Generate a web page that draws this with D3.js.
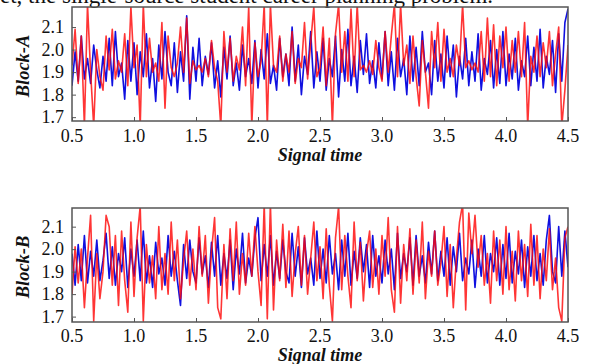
<!DOCTYPE html>
<html>
<head>
<meta charset="utf-8">
<script src="https://cdn.jsdelivr.net/npm/d3@7"></script>
<style>
  html, body { margin: 0; padding: 0; background: #fff; }
  svg { display: block; }
  svg text { font-family: "Liberation Serif", "Times New Roman", Times, serif; }
</style>
</head>
<body>
<svg id="chart" width="590" height="364"></svg>
<script>
// Sampling: 161 samples from 0.5 to 4.5 in steps of 0.025
const timeStart = 0.5;
const timeStep = 0.025;

const xTicks = [0.5, 1.0, 1.5, 2.0, 2.5, 3.0, 3.5, 4.0, 4.5];
const yTicks = [1.7, 1.8, 1.9, 2.0, 2.1];

// Block-A signals
const blockABlue = [
  1.84,1.99,1.86,2.06,1.87,1.96,1.85,2.02,1.91,1.83,
  1.97,1.86,2.05,1.84,2.08,1.88,1.94,1.78,2.04,1.86,
  2.03,1.80,1.99,1.88,2.07,1.83,1.96,1.77,2.02,1.87,
  2.08,1.90,1.84,2.03,1.81,1.99,1.86,2.15,1.78,2.01,
  1.86,2.05,1.84,1.97,1.89,2.03,1.83,1.95,1.79,2.01,
  1.87,2.06,1.84,1.94,1.82,2.02,1.88,1.96,1.85,2.04,
  1.83,2.00,1.87,2.07,1.85,1.93,1.82,2.05,1.88,1.98,
  1.84,2.10,1.86,2.02,1.80,1.97,1.89,2.08,1.83,1.99,
  1.86,2.05,1.82,1.96,1.88,2.06,1.79,2.00,1.86,2.09,
  1.84,1.97,1.81,2.04,1.89,2.07,1.85,1.95,1.83,2.03,
  1.87,2.08,1.84,1.99,1.82,2.05,1.88,1.96,1.80,2.06,
  1.86,2.01,1.84,2.08,1.90,1.94,1.80,2.04,1.86,1.98,
  1.83,2.06,1.88,2.02,1.79,1.97,1.87,2.05,1.84,1.99,
  1.86,2.07,1.82,1.96,1.89,2.04,1.83,2.00,1.85,2.08,
  1.84,1.98,1.87,2.05,1.82,1.95,1.88,2.06,1.84,2.01,
  1.86,2.09,1.83,1.97,1.89,2.04,1.81,2.07,1.86,2.12,
  2.18
];
const blockARed = [
  1.93,2.09,1.85,2.06,1.66,2.20,1.90,1.66,2.00,1.88,
  1.82,2.06,1.91,2.09,1.87,1.95,1.90,2.07,1.84,2.19,
  1.92,2.02,1.66,2.20,1.88,2.05,1.90,1.94,1.86,2.12,
  1.74,2.06,1.92,1.88,1.94,2.10,1.90,2.14,1.85,1.95,
  1.91,1.93,1.90,1.96,1.88,2.04,1.92,1.86,1.66,2.08,
  1.90,2.05,1.86,1.97,1.91,2.10,1.84,2.19,1.66,2.03,
  1.88,1.95,2.20,1.66,2.20,1.93,1.90,2.06,1.86,1.98,
  1.90,2.08,1.85,1.96,1.92,2.12,1.87,2.03,2.19,1.88,
  1.92,2.10,1.84,2.05,1.66,2.07,2.20,1.90,2.08,1.86,
  2.18,1.88,2.20,1.91,1.93,1.90,1.95,1.89,2.04,1.92,
  1.86,2.08,1.90,2.06,2.20,1.88,2.20,1.93,2.02,1.85,
  2.06,1.88,1.75,2.04,1.90,1.74,2.08,1.92,2.12,1.86,
  2.09,1.90,1.96,1.88,2.02,1.93,2.20,1.92,1.95,1.91,
  1.94,1.90,2.08,1.86,2.14,1.88,2.11,1.84,2.06,1.92,
  2.10,1.86,2.04,1.90,2.08,1.88,2.12,1.66,1.97,1.90,
  2.06,1.88,2.03,1.92,2.08,1.84,1.98,2.10,1.66,1.82,
  2.02
];

// Block-B signals
const blockBBlue = [
  1.98,1.84,2.02,1.86,2.06,1.85,1.99,1.88,2.04,1.86,
  1.95,2.07,1.87,2.01,1.84,1.98,1.90,2.05,1.83,2.00,
  1.88,2.04,1.86,2.08,1.85,1.97,1.83,2.03,1.89,1.96,
  1.84,2.06,1.88,1.99,1.86,1.75,2.02,1.87,2.04,1.90,
  1.85,2.05,1.89,1.97,1.83,2.03,1.88,2.06,1.84,1.98,
  1.87,2.04,1.82,2.00,1.89,2.07,1.85,1.96,1.88,2.05,
  2.14,1.86,2.02,1.88,2.06,1.84,1.99,1.87,2.04,1.90,
  1.85,2.07,1.88,2.01,1.83,2.05,1.89,1.96,1.84,2.08,
  1.87,2.00,1.85,2.06,1.89,1.98,1.82,2.04,1.88,2.07,
  1.84,1.99,1.87,2.05,1.90,2.02,1.83,2.06,1.88,1.97,
  1.85,2.04,1.89,2.00,1.82,2.07,1.87,1.98,1.90,2.05,
  1.84,2.06,1.88,1.97,1.85,2.03,1.89,2.08,1.86,1.99,
  1.88,2.05,1.84,2.01,1.90,2.07,1.86,1.96,1.89,2.04,
  1.83,2.00,1.88,2.06,1.85,1.98,1.90,2.05,1.84,2.02,
  1.87,2.07,1.85,1.99,1.89,2.04,1.83,2.01,1.88,2.06,
  1.86,1.98,1.84,2.04,2.15,1.90,1.85,2.10,1.88,2.08,
  1.92
];
const blockBRed = [
  1.80,2.01,1.85,2.00,1.74,1.96,2.15,1.68,1.98,1.78,
  1.90,2.15,2.10,1.84,2.06,1.75,2.08,1.86,1.72,2.12,
  1.79,2.05,2.19,1.68,2.02,1.85,1.97,1.78,2.10,1.82,
  1.98,1.80,2.12,1.86,2.04,1.78,1.95,2.08,1.84,2.00,
  1.82,2.10,1.88,2.06,1.76,1.99,2.14,1.74,1.69,2.02,
  1.78,2.09,1.86,2.12,1.80,1.98,1.84,2.07,1.88,2.10,
  1.90,1.75,2.20,1.69,2.20,1.73,2.04,1.86,2.11,1.83,
  2.08,1.79,1.98,2.10,1.84,2.06,1.80,1.96,2.12,1.86,
  2.01,1.78,2.09,1.84,1.68,2.05,2.19,1.82,2.06,1.88,
  1.74,2.12,1.86,2.03,1.77,1.98,2.08,1.83,2.00,1.80,
  2.06,1.88,2.14,1.82,1.72,2.10,1.76,2.02,1.86,2.09,
  1.80,2.04,1.85,2.12,1.78,1.99,1.88,2.08,1.84,1.94,
  2.10,1.79,2.02,1.74,1.96,2.12,2.20,1.73,2.16,1.98,
  2.15,1.92,2.06,1.84,1.98,1.76,2.08,1.86,2.04,1.80,
  2.10,1.82,1.99,1.77,2.08,1.86,2.02,1.79,2.11,1.84,
  2.06,1.78,2.00,1.86,2.09,1.82,1.96,1.74,1.68,2.05,
  2.10
];

const panels = [
  { label: "Block-A", blue: blockABlue, red: blockARed, top: 7, bottom: 121, yDomain: [1.683, 2.189], tickBase: 142, titleBase: 161 },
  { label: "Block-B", blue: blockBBlue, red: blockBRed, top: 208, bottom: 322, yDomain: [1.676, 2.183], tickBase: 342, titleBase: 361 }
];

const svg = d3.select("#chart");
const left = 72, right = 568;

// Running text above the figure, partly cut by the top edge
svg.append("text")
  .attr("x", 0).attr("y", 3)
  .attr("font-size", 23)
  .attr("fill", "#111")
  .text("et, the single-source student career planning problem.");

const x = d3.scaleLinear().domain([0.5, 4.5]).range([left, right]);

panels.forEach((p, pi) => {
  const y = d3.scaleLinear().domain(p.yDomain).range([p.bottom, p.top]);
  const g = svg.append("g");

  const clipId = "clip" + pi;
  svg.append("clipPath").attr("id", clipId)
    .append("rect").attr("x", left).attr("y", p.top)
    .attr("width", right - left).attr("height", p.bottom - p.top);

  const line = d3.line()
    .x((d, i) => x(timeStart + i * timeStep))
    .y(d => y(d));

  const plot = g.append("g").attr("clip-path", `url(#${clipId})`);
  plot.append("path").datum(p.blue)
    .attr("d", line).attr("fill", "none")
    .attr("stroke", "#1010e0").attr("stroke-width", 1.6)
    .attr("stroke-linejoin", "round");
  plot.append("path").datum(p.red)
    .attr("d", line).attr("fill", "none")
    .attr("stroke", "#ff0808").attr("stroke-opacity", 0.82).attr("stroke-width", 1.6)
    .attr("stroke-linejoin", "round");

  // Inward ticks
  const xAxis = d3.axisBottom(x).tickValues(xTicks).tickSizeInner(-4).tickSizeOuter(0).tickFormat("");
  g.append("g").attr("transform", `translate(0,${p.bottom})`).call(xAxis)
    .call(s => s.select(".domain").remove())
    .selectAll("line").attr("stroke", "#555");
  const yAxis = d3.axisLeft(y).tickValues(yTicks).tickSizeInner(-4).tickSizeOuter(0).tickFormat("");
  g.append("g").attr("transform", `translate(${left},0)`).call(yAxis)
    .call(s => s.select(".domain").remove())
    .selectAll("line").attr("stroke", "#555");

  // Frame
  g.append("rect").attr("x", left).attr("y", p.top)
    .attr("width", right - left).attr("height", p.bottom - p.top)
    .attr("fill", "none").attr("stroke", "#555").attr("stroke-width", 1.5);

  // Tick labels
  g.selectAll(".xl").data(xTicks).enter().append("text")
    .attr("x", d => x(d)).attr("y", p.tickBase)
    .attr("text-anchor", "middle")
    .attr("font-size", 18).attr("fill", "#111")
    .text(d => d.toFixed(1));
  g.selectAll(".yl").data(yTicks).enter().append("text")
    .attr("x", left - 8).attr("y", d => y(d)).attr("dy", "0.34em")
    .attr("text-anchor", "end")
    .attr("font-size", 18).attr("fill", "#111")
    .text(d => d.toFixed(1));

  // Axis titles
  g.append("text")
    .attr("x", 320).attr("y", p.titleBase)
    .attr("text-anchor", "middle")
    .attr("font-size", 18)
    .attr("font-weight", "bold").attr("font-style", "italic").attr("fill", "#111")
    .text("Signal time");
  g.append("text")
    .attr("transform", `translate(29,${(p.top + p.bottom) / 2 + 2}) rotate(-90)`)
    .attr("text-anchor", "middle")
    .attr("font-size", 18.5)
    .attr("font-weight", "bold").attr("font-style", "italic").attr("fill", "#111")
    .text(p.label);
});
</script>
</body>
</html>
